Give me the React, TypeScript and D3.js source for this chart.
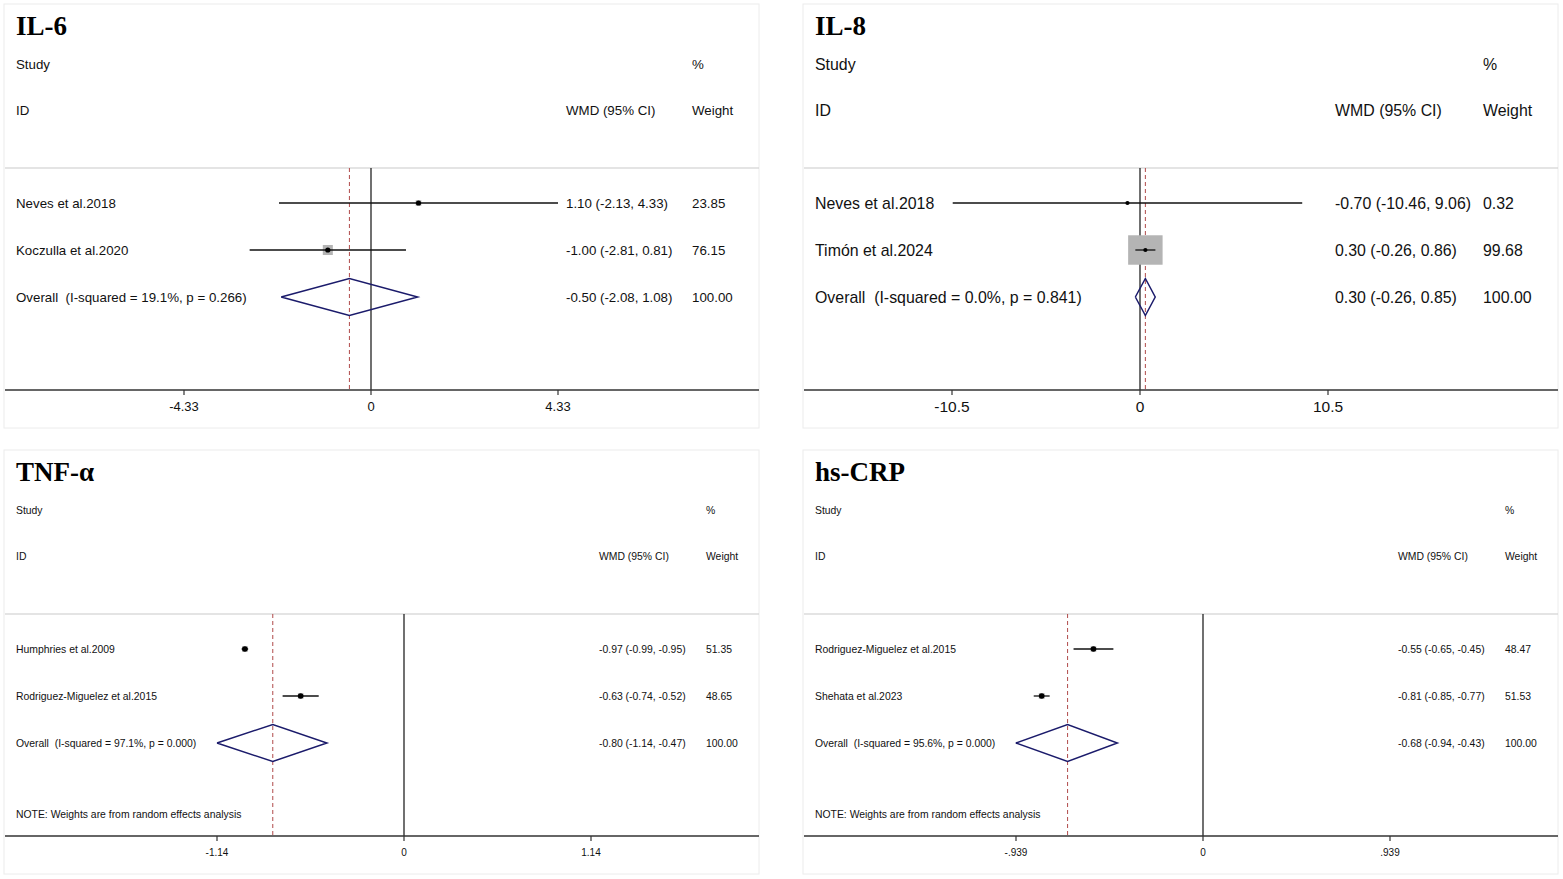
import React from 'react';
import * as d3 from 'd3';

// ---- data ----
const panelTitles = ['IL-6', 'IL-8', 'TNF-α', 'hs-CRP'];

const il6Studies = ['Neves et al.2018', 'Koczulla et al.2020'];
const il6Wmd = [1.10, -1.00];
const il6Lower = [-2.13, -2.81];
const il6Upper = [4.33, 0.81];
const il6Weight = [23.85, 76.15];
const il6Overall = [-0.50, -2.08, 1.08];
const il6Het = ['19.1%', '0.266'];
const il6Ticks = [-4.33, 0, 4.33];
const il6TickLabels = ['-4.33', '0', '4.33'];

const il8Studies = ['Neves et al.2018', 'Timón et al.2024'];
const il8Wmd = [-0.70, 0.30];
const il8Lower = [-10.46, -0.26];
const il8Upper = [9.06, 0.86];
const il8Weight = [0.32, 99.68];
const il8Overall = [0.30, -0.26, 0.85];
const il8Het = ['0.0%', '0.841'];
const il8Ticks = [-10.5, 0, 10.5];
const il8TickLabels = ['-10.5', '0', '10.5'];

const tnfStudies = ['Humphries et al.2009', 'Rodriguez-Miguelez et al.2015'];
const tnfWmd = [-0.97, -0.63];
const tnfLower = [-0.99, -0.74];
const tnfUpper = [-0.95, -0.52];
const tnfWeight = [51.35, 48.65];
const tnfOverall = [-0.80, -1.14, -0.47];
const tnfHet = ['97.1%', '0.000'];
const tnfTicks = [-1.14, 0, 1.14];
const tnfTickLabels = ['-1.14', '0', '1.14'];

const crpStudies = ['Rodriguez-Miguelez et al.2015', 'Shehata et al.2023'];
const crpWmd = [-0.55, -0.81];
const crpLower = [-0.65, -0.85];
const crpUpper = [-0.45, -0.77];
const crpWeight = [48.47, 51.53];
const crpOverall = [-0.68, -0.94, -0.43];
const crpHet = ['95.6%', '0.000'];
const crpTicks = [-0.939, 0, 0.939];
const crpTickLabels = ['-.939', '0', '.939'];

const noteText = 'NOTE: Weights are from random effects analysis';

// ---- layout for each panel ----
type Panel = {
  title: string;
  studies: string[];
  wmd: number[];
  lower: number[];
  upper: number[];
  weight: number[];
  overall: number[];
  het: string[];
  ticks: number[];
  tickLabels: string[];
  showNote: boolean;
  left: number;
  top: number;
  px: [number, number];
  fs: number;
  tickFs: number;
  valX: number;
  wtX: number;
  boxK: [number, number];
  dotR: number;
};

const panels: Panel[] = [
  {
    title: panelTitles[0], studies: il6Studies, wmd: il6Wmd, lower: il6Lower, upper: il6Upper,
    weight: il6Weight, overall: il6Overall, het: il6Het, ticks: il6Ticks, tickLabels: il6TickLabels,
    showNote: false, left: 4, top: 4, px: [184, 558], fs: 13.3, tickFs: 13, valX: 566, wtX: 692,
    boxK: [1.15, 1.15], dotR: 2.6,
  },
  {
    title: panelTitles[1], studies: il8Studies, wmd: il8Wmd, lower: il8Lower, upper: il8Upper,
    weight: il8Weight, overall: il8Overall, het: il8Het, ticks: il8Ticks, tickLabels: il8TickLabels,
    showNote: false, left: 803, top: 4, px: [952, 1328], fs: 15.9, tickFs: 15.5, valX: 1335, wtX: 1483,
    boxK: [3.45, 2.95], dotR: 2.1,
  },
  {
    title: panelTitles[2], studies: tnfStudies, wmd: tnfWmd, lower: tnfLower, upper: tnfUpper,
    weight: tnfWeight, overall: tnfOverall, het: tnfHet, ticks: tnfTicks, tickLabels: tnfTickLabels,
    showNote: true, left: 4, top: 450, px: [217, 591], fs: 10.4, tickFs: 10, valX: 599, wtX: 706,
    boxK: [0.8, 0.8], dotR: 2.8,
  },
  {
    title: panelTitles[3], studies: crpStudies, wmd: crpWmd, lower: crpLower, upper: crpUpper,
    weight: crpWeight, overall: crpOverall, het: crpHet, ticks: crpTicks, tickLabels: crpTickLabels,
    showNote: true, left: 803, top: 450, px: [1016, 1390], fs: 10.4, tickFs: 10, valX: 1398, wtX: 1505,
    boxK: [0.8, 0.8], dotR: 2.8,
  },
];

const PANEL_W = 755;
const PANEL_H = 424;
const SANS = 'Arial, "Liberation Sans", Helvetica, sans-serif';
const SERIF = '"Times New Roman", "Liberation Serif", serif';

const fmt = (v: number) => v.toFixed(2);

const ForestPanel: React.FC<{ p: Panel }> = ({ p }) => {
  const x = d3.scaleLinear().domain([p.ticks[0], p.ticks[2]]).range(p.px);
  const t = p.top;
  const l = p.left;
  const right = l + PANEL_W;
  const headerY = t + 164;
  const axisY = t + 386;
  const rowY = [t + 199, t + 246];
  const overallY = t + 293;
  const dh = 18.5;
  const [est, lo, hi] = p.overall;
  const diamond = d3.line()([
    [x(lo), overallY],
    [x(est), overallY - dh],
    [x(hi), overallY],
    [x(est), overallY + dh],
    [x(lo), overallY],
  ]) as string;

  const textProps = { fontFamily: SANS, fontSize: p.fs, fill: '#111', dominantBaseline: 'central' as const };

  return (
    <g>
      <rect x={l} y={t} width={PANEL_W} height={PANEL_H} fill="#fff" stroke="#ececec" strokeWidth={1} />
      <text x={l + 12} y={t + 31} fontFamily={SERIF} fontWeight="bold" fontSize={27} fill="#000">
        {p.title}
      </text>
      <text x={l + 12} y={t + 60} {...textProps}>Study</text>
      <text x={l + 12} y={t + 106} {...textProps}>ID</text>
      <text x={p.wtX} y={t + 60} {...textProps}>%</text>
      <text x={p.valX} y={t + 106} {...textProps}>WMD (95% CI)</text>
      <text x={p.wtX} y={t + 106} {...textProps}>Weight</text>

      <line x1={l + 1} x2={right} y1={headerY} y2={headerY} stroke="#c9c9c9" strokeWidth={1.2} />

      {/* null line and overall estimate line */}
      <line x1={x(0)} x2={x(0)} y1={headerY} y2={axisY} stroke="#111" strokeWidth={1.2} />
      <line x1={x(est)} x2={x(est)} y1={headerY} y2={axisY} stroke="#b04a4a" strokeWidth={1} strokeDasharray="4,3" />

      {p.studies.map((s, i) => {
        const y = rowY[i];
        const bw = p.boxK[0] * Math.sqrt(p.weight[i]);
        const bh = p.boxK[1] * Math.sqrt(p.weight[i]);
        return (
          <g key={s}>
            <text x={l + 12} y={y} {...textProps}>{s}</text>
            <rect x={x(p.wmd[i]) - bw / 2} y={y - bh / 2} width={bw} height={bh} fill="#b4b4b4" />
            <line x1={x(p.lower[i])} x2={x(p.upper[i])} y1={y} y2={y} stroke="#111" strokeWidth={1.3} />
            <circle cx={x(p.wmd[i])} cy={y} r={p.dotR} fill="#000" />
            <text x={p.valX} y={y} {...textProps}>
              {`${fmt(p.wmd[i])} (${fmt(p.lower[i])}, ${fmt(p.upper[i])})`}
            </text>
            <text x={p.wtX} y={y} {...textProps}>{fmt(p.weight[i])}</text>
          </g>
        );
      })}

      <text x={l + 12} y={overallY} {...textProps} style={{ whiteSpace: 'pre' }}>
        {`Overall  (I-squared = ${p.het[0]}, p = ${p.het[1]})`}
      </text>
      <path d={diamond} fill="none" stroke="#1b1b6b" strokeWidth={1.5} />
      <text x={p.valX} y={overallY} {...textProps}>{`${fmt(est)} (${fmt(lo)}, ${fmt(hi)})`}</text>
      <text x={p.wtX} y={overallY} {...textProps}>{fmt(100)}</text>

      {p.showNote && (
        <text x={l + 12} y={t + 364} {...textProps}>{noteText}</text>
      )}

      <line x1={l + 1} x2={right} y1={axisY} y2={axisY} stroke="#333" strokeWidth={1.4} />
      {p.ticks.map((v, i) => (
        <g key={i}>
          <line x1={x(v)} x2={x(v)} y1={axisY} y2={axisY + 5} stroke="#333" strokeWidth={1.2} />
          <text
            x={x(v)}
            y={axisY + 16}
            textAnchor="middle"
            dominantBaseline="central"
            fontFamily={SANS}
            fontSize={p.tickFs}
            fill="#111"
          >
            {p.tickLabels[i]}
          </text>
        </g>
      ))}
    </g>
  );
};

export default function App() {
  return (
    <svg
      width={1563}
      height={879}
      style={{ position: 'absolute', left: 0, top: 0, display: 'block', background: '#fff' }}
    >
      <rect width={1563} height={879} fill="#fff" />
      {panels.map((p) => (
        <ForestPanel key={p.title} p={p} />
      ))}
    </svg>
  );
}
